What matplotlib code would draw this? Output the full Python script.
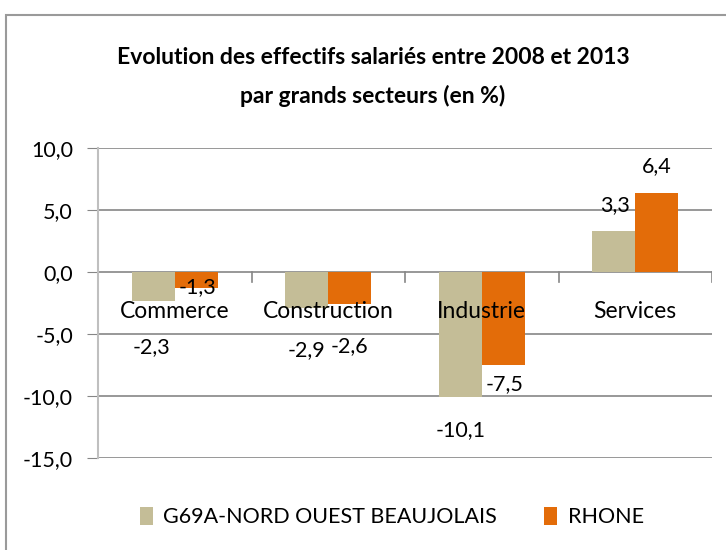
import matplotlib
matplotlib.use("Agg")
import matplotlib.pyplot as plt
from matplotlib.patches import Rectangle
from matplotlib.ticker import FuncFormatter
import numpy as np

# donnees
secteurs = ["Commerce", "Construction", "Industrie", "Services"]
nord_ouest = [-2.3, -2.9, -10.1, 3.3]
rhone = [-1.3, -2.6, -7.5, 6.4]
series = ["G69A-NORD OUEST BEAUJOLAIS", "RHONE"]
yticks = [10, 5, 0, -5, -10, -15]

# decalages (pixels) des etiquettes, retouchees a la main comme dans Excel
off_nord = [(-2, -47), (0, -42), (0, -33), (1, 26)]
off_rhone = [(1, 1), (0, -42), (1, -19), (0, 27)]

col_nord = "#C4BD97"
col_rhone = "#E36C09"
grid_col = "#868686"
fam = ["Liberation Sans Narrow", "Lato", "DejaVu Sans"]
plt.rcParams["font.family"] = fam

fig = plt.figure(figsize=(7.26, 5.5), dpi=100)
# cadre du graphique
fig.patches.append(Rectangle((6 / 726, -0.1), 1.2, 1.1 - 15 / 550,
                             transform=fig.transFigure, fill=False,
                             edgecolor="#9a9a9a", linewidth=1.5))

ax = fig.add_axes([98 / 726, 1 - 458 / 550, 614 / 726, 310 / 550])
x = np.arange(len(secteurs))
w = 0.28
b1 = ax.bar(x - w / 2, nord_ouest, w, color=col_nord, label=series[0], zorder=3)
b2 = ax.bar(x + w / 2, rhone, w, color=col_rhone, label=series[1], zorder=3)

fmt = lambda v: ("%.1f" % v).replace(".", ",")

for bars, vals, offs in [(b1, nord_ouest, off_nord), (b2, rhone, off_rhone)]:
    for b, v, o in zip(bars, vals, offs):
        ax.annotate(fmt(v), (b.get_x() + b.get_width() / 2, v),
                    xytext=o, textcoords="offset pixels",
                    ha="center", va="center", fontsize=15.5, zorder=5)

for i, s in enumerate(secteurs):
    ax.annotate(s, (i, 0), xytext=(0, -39), textcoords="offset pixels",
                ha="center", va="center", fontsize=16.5, zorder=6)

ax.set_xlim(-0.5, len(secteurs) - 0.5)
ax.set_ylim(-15, 10)
ax.set_yticks(yticks)
ax.yaxis.set_major_formatter(FuncFormatter(lambda v, p: fmt(v)))
ax.tick_params(axis="y", length=8, color=grid_col, labelsize=15.5, pad=10)
ax.set_xticks([])
for yv in yticks:
    ax.axhline(yv, color=grid_col, linewidth=1.2, zorder=1)
# petits traits entre categories sur l'axe zero
for xb in np.arange(0.5, len(secteurs), 1):
    ax.plot([xb, xb], [0, -0.8], color=grid_col, linewidth=1.2, zorder=2)

for sp in ["top", "right", "bottom"]:
    ax.spines[sp].set_visible(False)
ax.spines["left"].set_color("#BFBFBF")
ax.spines["left"].set_linewidth(1.5)

fig.text(373 / 726, 1 - 58 / 550, "Evolution des effectifs salariés entre 2008 et 2013",
         ha="center", va="center", fontsize=16.5, fontweight="bold")
fig.text(373 / 726, 1 - 96 / 550, "par grands secteurs (en %)",
         ha="center", va="center", fontsize=16.5, fontweight="bold")

fig.legend(handles=[b1, b2], labels=series, loc="center",
           bbox_to_anchor=(392 / 726, 1 - 517 / 550), ncol=2, frameon=False,
           fontsize=15.5, handlelength=0.6, handleheight=0.9, handletextpad=0.5,
           columnspacing=2.2)

fig.savefig("out.png", dpi=100)
